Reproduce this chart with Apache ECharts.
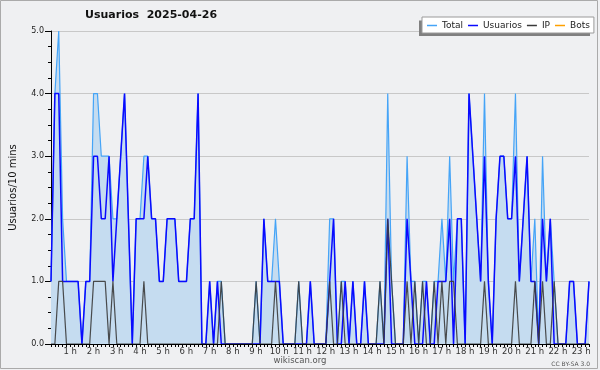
<!DOCTYPE html>
<html>
<head>
<meta charset="utf-8">
<script src="https://cdn.jsdelivr.net/npm/echarts@6/dist/echarts.min.js"></script>
<style>
html,body{margin:0;padding:0;background:#eff0f2;}
#chart{width:600px;height:370px;}
</style>
</head>
<body>
<div id="chart"></div>
<script>
// 10-minute slots, 00:00 .. 23:10
const hourLabels = ["1 h","2 h","3 h","4 h","5 h","6 h","7 h","8 h","9 h","10 h","11 h","12 h",
  "13 h","14 h","15 h","16 h","17 h","18 h","19 h","20 h","21 h","22 h","23 h"];

const total = [
  1,4,5,2,1,1,1,1,0,1,
  1,4,4,3,3,3,2,2,3,4,
  2,0,2,2,3,3,2,2,1,1,
  2,2,2,1,1,1,2,2,4,0,
  0,1,0,1,1,0,0,0,0,0,
  0,0,0,1,0,2,1,1,2,1,
  0,0,0,0,1,0,0,1,0,0,
  0,0,2,2,0,1,1,0,1,0,
  0,1,0,0,0,1,0,4,1,0,
  0,0,3,1,1,0,1,1,0,1,
  1,2,1,3,1,2,2,0,4,3,
  2,1,4,1,0,2,3,3,2,2,
  4,1,2,3,1,2,0,3,1,2,
  1,0,0,0,1,1,0,0,0,1
];
const usuarios = [
  1,4,4,1,1,1,1,1,0,1,
  1,3,3,2,2,3,1,2,3,4,
  2,0,2,2,2,3,2,2,1,1,
  2,2,2,1,1,1,2,2,4,0,
  0,1,0,1,0,0,0,0,0,0,
  0,0,0,0,0,2,1,1,1,1,
  0,0,0,0,0,0,0,1,0,0,
  0,0,1,2,0,0,1,0,1,0,
  0,1,0,0,0,0,0,2,0,0,
  0,0,2,1,0,0,0,1,0,0,
  1,1,1,2,0,2,2,0,4,3,
  2,1,3,1,0,2,3,3,2,2,
  3,1,2,3,1,1,0,2,1,2,
  0,0,0,0,1,1,0,0,0,1
];
const ip = [
  0,0,1,1,0,0,0,0,0,0,
  0,1,1,1,1,0,1,0,0,0,
  0,0,0,0,1,0,0,0,0,0,
  0,0,0,0,0,0,0,0,0,0,
  0,0,0,0,1,0,0,0,0,0,
  0,0,0,1,0,0,0,0,1,0,
  0,0,0,0,1,0,0,0,0,0,
  0,0,1,0,0,1,0,0,0,0,
  0,0,0,0,0,1,0,2,1,0,
  0,0,1,0,1,0,1,0,0,1,
  0,1,0,1,1,0,0,0,0,0,
  0,0,1,0,0,0,0,0,0,0,
  1,0,0,0,0,1,0,1,0,0,
  1,0,0,0,0,0,0,0,0,0
];
const bots = [
  0,0,0,0,0,0,0,0,0,0,
  0,0,0,0,0,0,0,0,0,0,
  0,0,0,0,0,0,0,0,0,0,
  0,0,0,0,0,0,0,0,0,0,
  0,0,0,0,0,0,0,0,0,0,
  0,0,0,0,0,0,0,0,0,0,
  0,0,0,0,0,0,0,0,0,0,
  0,0,0,0,0,0,0,0,0,0,
  0,0,0,0,0,0,0,0,0,0,
  0,0,0,0,0,0,0,0,0,0,
  0,0,0,0,0,0,0,0,0,0,
  0,0,0,0,0,0,0,0,0,0,
  0,0,0,0,0,0,0,0,0,0,
  0,0,0,0,0,0,0,0,0,0
];
const slots = total.map((_, i) => i);

const chart = echarts.init(document.getElementById('chart'), null, {renderer: 'canvas'});
const FONT = 'DejaVu Sans';
chart.setOption({
  animation: false,
  backgroundColor: '#eff0f2',
  title: {
    text: 'Usuarios  2025-04-26',
    left: 85, top: 10, padding: 0,
    textStyle: {fontFamily: FONT, fontSize: 11, fontWeight: 'bold', color: '#111'}
  },
  legend: {
    left: 422, top: 17,
    z: 6,
    padding: [4, 4, 3, 5],
    itemGap: 5,
    itemWidth: 10, itemHeight: 1.5,
    icon: 'rect',
    backgroundColor: '#ffffff',
    borderColor: '#9a9a9a', borderWidth: 1,
    textStyle: {fontFamily: FONT, fontSize: 9, color: '#222'},
    data: ['Total', 'Usuarios', 'IP', 'Bots']
  },
  graphic: [
    {type: 'rect', z: 1, shape: {x: 419, y: 20.5, width: 171, height: 15.5}, style: {fill: '#808080'}},
    {type: 'rect', z: 0, shape: {x: 0.5, y: 0.5, width: 597, height: 368}, style: {fill: 'none', stroke: '#aaaaaa', lineWidth: 1}},
    {type: 'text', z: 5, left: 'center', top: 356, style: {text: 'wikiscan.org', fontFamily: FONT, fontSize: 8.5, fill: '#555'}},
    {type: 'text', z: 5, right: 10, top: 361, style: {text: 'CC BY-SA 3.0', fontFamily: FONT, fontSize: 6, fill: '#555'}}
  ],
  grid: {left: 47, right: 11, top: 31, bottom: 26, show: false},
  xAxis: {
    type: 'category',
    data: slots,
    boundaryGap: false,
    z: 6,
    axisLine: {lineStyle: {color: '#000', width: 1}},
    axisTick: {show: true, interval: 0, length: 3, lineStyle: {color: '#000'}},
    axisLabel: {
      interval: function (i) { return i > 0 && i % 6 === 0; },
      formatter: function (v, i) { return hourLabels[i / 6 - 1] || ''; },
      fontFamily: FONT, fontSize: 8.5, color: '#333', margin: 3,
      padding: [0, 8, 0, 0]
    },
    splitLine: {show: false}
  },
  yAxis: {
    type: 'value',
    min: 0, max: 5, interval: 1,
    name: 'Usuarios/10 mins',
    nameLocation: 'middle',
    nameGap: 33,
    nameTextStyle: {fontFamily: FONT, fontSize: 10, color: '#111'},
    axisLine: {show: true, lineStyle: {color: '#000', width: 1}},
    axisTick: {show: true, length: 6, lineStyle: {color: '#000'}},
    minorTick: {show: true, splitNumber: 4, length: 3, lineStyle: {color: '#000'}},
    axisLabel: {
      formatter: function (v) { return v.toFixed(1); },
      fontFamily: FONT, fontSize: 8, color: '#222', margin: 7
    },
    splitLine: {show: true, lineStyle: {color: '#c8c8c8', width: 1}}
  },
  series: [
    {
      name: 'Total', type: 'line', data: total, symbol: 'none', z: 2,
      itemStyle: {color: '#45a4f7'},
      lineStyle: {color: '#45a4f7', width: 1.2},
      areaStyle: {color: '#c5dcf0', opacity: 1}
    },
    {
      name: 'Usuarios', type: 'line', data: usuarios, symbol: 'none', z: 3,
      itemStyle: {color: '#0a0aff'},
      lineStyle: {color: '#0a0aff', width: 1.5}
    },
    {
      name: 'IP', type: 'line', data: ip, symbol: 'none', z: 3,
      itemStyle: {color: '#3a3a3a'},
      lineStyle: {color: '#3a3a3a', width: 1.2, opacity: 0.9}
    },
    {
      name: 'Bots', type: 'line', data: bots, symbol: 'none', z: 1,
      itemStyle: {color: '#ffa000'},
      lineStyle: {color: '#ffa000', width: 1}
    }
  ]
});
</script>
</body>
</html>
